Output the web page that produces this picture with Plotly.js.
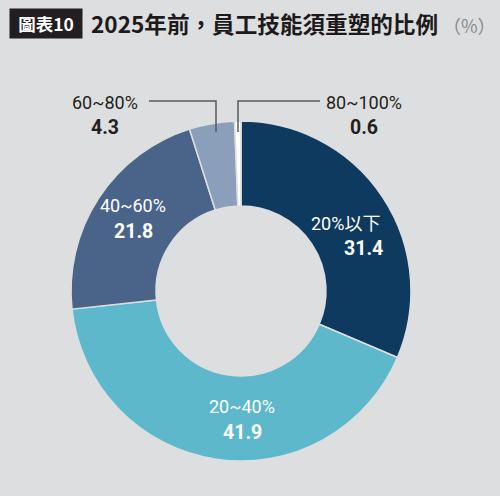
<!DOCTYPE html>
<html>
<head>
<meta charset="utf-8">
<script src="https://cdn.plot.ly/plotly-3.0.1.min.js"></script>
<style>
  html, body { margin: 0; padding: 0; background: #dddedf; }
  #chart { width: 500px; height: 496px; }
</style>
</head>
<body>
<div id="chart"></div>
<script>
const categories = ['20%以下', '20~40%', '40~60%', '60~80%', '80~100%'];
const values = [31.4, 41.9, 21.8, 4.3, 0.6];
const colors = ['#0e3a5f', '#5cb8ca', '#4a6489', '#8b9fbb', '#ffffff'];

const titleTag = '圖表10';
const titleText = '2025年前，員工技能須重塑的比例';
const unitText = '（%）';

const BG = '#dddedf';
const FONT = 'Roboto, "Noto Sans CJK TC", sans-serif';

const trace = {
  type: 'pie',
  labels: categories,
  values: values,
  sort: false,
  direction: 'clockwise',
  rotation: 0,
  hole: 0.5,
  textinfo: 'none',
  hoverinfo: 'label+value',
  marker: { colors: colors, line: { color: BG, width: 1.5 } },
  domain: { x: [0.142, 0.822], y: [0.0706, 0.756] },
  showlegend: false
};

// label placements (paper px)
const labelPos = [
  { x: 382, y1: 223, y2: 248, color: '#ffffff', anchor: 'right' },
  { x: 242, y1: 406, y2: 432, color: '#ffffff', anchor: 'center' },
  { x: 133, y1: 206, y2: 231, color: '#ffffff', anchor: 'center' },
  { x: 105, y1: 102, y2: 127, color: '#231f20', anchor: 'center' },
  { x: 364, y1: 102, y2: 127, color: '#231f20', anchor: 'center' }
];

const W = 500, H = 496;
const px = x => x / W;
const py = y => 1 - y / H;

const annotations = [];
categories.forEach((c, i) => {
  const p = labelPos[i];
  annotations.push({
    xref: 'paper', yref: 'paper', x: px(p.x), y: py(p.y1),
    xanchor: p.anchor, yanchor: 'middle', showarrow: false,
    text: c, font: { family: FONT, size: 18, color: p.color }
  });
  annotations.push({
    xref: 'paper', yref: 'paper', x: px(p.anchor === 'right' ? p.x + 3 : p.x), y: py(p.y2),
    xanchor: p.anchor, yanchor: 'middle', showarrow: false,
    text: '<b>' + values[i].toFixed(1) + '</b>',
    font: { family: FONT, size: 19.5, color: p.color }
  });
});

// title tag box
annotations.push({
  xref: 'paper', yref: 'paper', x: px(9), y: py(23.5),
  xanchor: 'left', yanchor: 'middle', showarrow: false,
  text: '<b>' + titleTag + '</b>',
  font: { family: '"Noto Sans CJK TC", Roboto, sans-serif', size: 17.5, color: '#ffffff' },
  bgcolor: '#231f20', borderpad: 4, width: 64, height: 21
});
annotations.push({
  xref: 'paper', yref: 'paper', x: px(89), y: py(24),
  xanchor: 'left', yanchor: 'middle', showarrow: false,
  text: '<b>' + titleText + '</b>',
  font: { family: '"Noto Sans CJK TC", sans-serif', size: 22.6, color: '#1e1a1b' }
});
annotations.push({
  xref: 'paper', yref: 'paper', x: px(441), y: py(25),
  xanchor: 'left', yanchor: 'middle', showarrow: false,
  text: unitText,
  font: { family: '"Noto Sans CJK TC", sans-serif', size: 18, color: '#8a8a8a' }
});

const lineStyle = { color: '#5a5a5a', width: 1.5 };
const shapes = [
  { type: 'path', xref: 'paper', yref: 'paper',
    path: `M ${px(149)} ${py(101)} L ${px(216)} ${py(101)} L ${px(216)} ${py(132)}`,
    line: lineStyle },
  { type: 'path', xref: 'paper', yref: 'paper',
    path: `M ${px(320)} ${py(101)} L ${px(238)} ${py(101)} L ${px(238)} ${py(132)}`,
    line: lineStyle }
];

const layout = {
  width: W, height: H,
  margin: { l: 0, r: 0, t: 0, b: 0 },
  paper_bgcolor: BG, plot_bgcolor: BG,
  annotations: annotations,
  shapes: shapes,
  showlegend: false
};

Plotly.newPlot('chart', [trace], layout, { displayModeBar: false, staticPlot: true });
</script>
</body>
</html>
